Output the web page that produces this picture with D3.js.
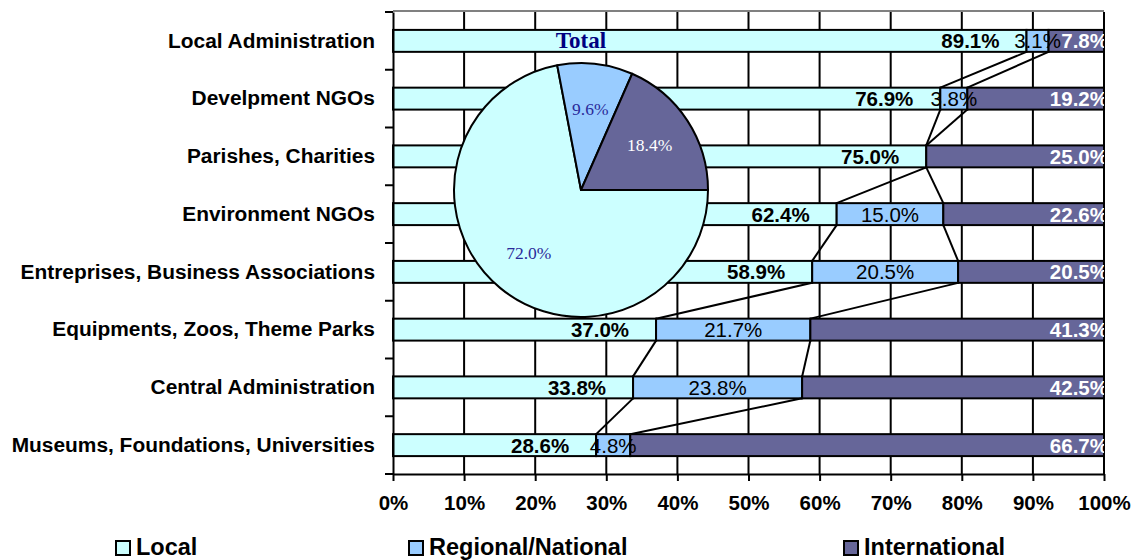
<!DOCTYPE html>
<html>
<head>
<meta charset="utf-8">
<script src="https://cdn.jsdelivr.net/npm/d3@7"></script>
<style>
  html, body { margin: 0; padding: 0; background: #ffffff; }
  svg { display: block; font-family: "Liberation Sans", Arial, sans-serif; }
</style>
</head>
<body>
<svg id="chart" width="1135" height="560"></svg>
<script>
// Share of partners by scope, per type of organisation
const categories = [
  "Local Administration",
  "Develpment NGOs",
  "Parishes, Charities",
  "Environment NGOs",
  "Entreprises, Business Associations",
  "Equipments, Zoos, Theme Parks",
  "Central Administration",
  "Museums, Foundations, Universities"
];
const localShare         = [89.1, 76.9, 75.0, 62.4, 58.9, 37.0, 33.8, 28.6];
const regionalShare      = [3.1, 3.8, 0.0, 15.0, 20.5, 21.7, 23.8, 4.8];
const internationalShare = [7.8, 19.2, 25.0, 22.6, 20.5, 41.3, 42.5, 66.7];

// Overall split shown in the inset pie
const totalShare = [72.0, 9.6, 18.4];

const seriesNames = ["Local", "Regional/National", "International"];
const seriesColors = ["#CCFFFF", "#99CCFF", "#666699"];
const xTicks = [0, 0.1, 0.2, 0.3, 0.4, 0.5, 0.6, 0.7, 0.8, 0.9, 1.0];

const SANS = "'Liberation Sans', Arial, sans-serif";
const SERIF = "'Liberation Serif', 'Times New Roman', serif";

const svg = d3.select("#chart");
const margin = { left: 393, top: 12, right: 31, bottom: 86 };
const W = 1135, H = 560;
const plotW = W - margin.left - margin.right;
const plotH = H - margin.top - margin.bottom;

const g = svg.append("g").attr("transform", `translate(${margin.left},${margin.top})`);

const rows = categories.map((c, i) => ({
  category: c,
  [seriesNames[0]]: localShare[i],
  [seriesNames[1]]: regionalShare[i],
  [seriesNames[2]]: internationalShare[i]
}));

const stacked = d3.stack().keys(seriesNames).offset(d3.stackOffsetExpand)(rows);

const x = d3.scaleLinear().domain([0, 1]).range([0, plotW]);
const y = d3.scaleBand().domain(categories).range([0, plotH])
  .paddingInner(0.62).paddingOuter(0.31);
const color = d3.scaleOrdinal().domain(seriesNames).range(seriesColors);

// clip for labels that run past the right edge
svg.append("defs").append("clipPath").attr("id", "plotClip")
  .append("rect").attr("x", 0).attr("y", 0).attr("width", plotW).attr("height", plotH);

// plot frame (top edge)
g.append("line").attr("x1", 0).attr("x2", plotW).attr("y1", -1).attr("y2", -1)
  .attr("stroke", "#808080").attr("stroke-width", 2);

// vertical gridlines
g.append("g").selectAll("line").data(xTicks.slice(1)).join("line")
  .attr("x1", d => x(d)).attr("x2", d => x(d))
  .attr("y1", 0).attr("y2", plotH)
  .attr("stroke", "#000").attr("stroke-width", 2);

// stacked bars
g.append("g").selectAll("g").data(stacked).join("g")
  .attr("fill", d => color(d.key))
  .selectAll("rect").data(d => d.filter(s => s[1] - s[0] > 0)).join("rect")
  .attr("x", d => x(d[0]))
  .attr("y", d => y(d.data.category))
  .attr("width", d => x(d[1]) - x(d[0]))
  .attr("height", y.bandwidth())
  .attr("stroke", "#000").attr("stroke-width", 2);

// series lines between neighbouring bars
const seriesLines = [];
for (let s = 0; s < stacked.length - 1; s++) {
  const layer = stacked[s];
  for (let i = 0; i < layer.length - 1; i++) {
    seriesLines.push({
      x1: x(layer[i][1]), y1: y(categories[i]) + y.bandwidth(),
      x2: x(layer[i + 1][1]), y2: y(categories[i + 1])
    });
  }
}
g.append("g").selectAll("line").data(seriesLines).join("line")
  .attr("x1", d => d.x1).attr("y1", d => d.y1)
  .attr("x2", d => d.x2).attr("y2", d => d.y2)
  .attr("stroke", "#000").attr("stroke-width", 2);

const fmt = v => v.toFixed(1) + "%";
const labelSize = 20.5;

// local labels: bold, inside the segment near its end
g.append("g").selectAll("text").data(stacked[0]).join("text")
  .attr("x", d => x(d[1]) - 27)
  .attr("y", d => y(d.data.category) + y.bandwidth() / 2)
  .attr("dy", "0.36em")
  .attr("text-anchor", "end")
  .style("font-family", SANS)
  .attr("font-size", labelSize).attr("font-weight", "bold")
  .attr("fill", "#000")
  .text((d, i) => fmt(localShare[i]));

// regional labels: regular weight, centred
g.append("g").selectAll("text").data(stacked[1].filter((d, i) => regionalShare[i] > 0)).join("text")
  .attr("x", d => x((d[0] + d[1]) / 2))
  .attr("y", d => y(d.data.category) + y.bandwidth() / 2)
  .attr("dy", "0.36em")
  .attr("text-anchor", "middle")
  .style("font-family", SANS)
  .attr("font-size", labelSize)
  .attr("fill", "#000")
  .text(d => fmt(d.data[seriesNames[1]]));

// international labels: white, against the right edge
g.append("g").attr("clip-path", "url(#plotClip)")
  .selectAll("text").data(stacked[2]).join("text")
  .attr("x", d => x(d[1]) + 4)
  .attr("y", d => y(d.data.category) + y.bandwidth() / 2)
  .attr("dy", "0.36em")
  .attr("text-anchor", "end")
  .style("font-family", SANS)
  .attr("font-size", labelSize).attr("font-weight", "bold")
  .attr("fill", "#ffffff")
  .text(d => fmt(d.data[seriesNames[2]]));

// x axis
const xAxis = g.append("g").attr("transform", `translate(0,${plotH})`)
  .call(d3.axisBottom(x).tickValues(xTicks).tickFormat(d3.format(".0%"))
    .tickSize(7).tickSizeOuter(0).tickPadding(14));
xAxis.select(".domain").attr("stroke", "#000").attr("stroke-width", 2);
xAxis.selectAll(".tick line").attr("stroke", "#000").attr("stroke-width", 2);
xAxis.selectAll(".tick text")
  .style("font-family", SANS)
  .attr("font-size", labelSize).attr("font-weight", "bold").attr("fill", "#000");

// y axis with ticks between categories
const yAxis = g.append("g")
  .call(d3.axisLeft(y).tickSize(0).tickPadding(18));
yAxis.select(".domain").attr("stroke", "#000").attr("stroke-width", 2);
yAxis.selectAll(".tick text")
  .style("font-family", SANS)
  .attr("font-size", 20.9).attr("font-weight", "bold").attr("fill", "#000");

const gapHalf = (y.step() - y.bandwidth()) / 2;
const boundaries = categories.map(c => y(c) - gapHalf).concat([plotH]);
g.append("g").selectAll("line").data(boundaries).join("line")
  .attr("x1", -8).attr("x2", 0)
  .attr("y1", d => d).attr("y2", d => d)
  .attr("stroke", "#000").attr("stroke-width", 2);

// inset pie of the total
const pieCx = 581, pieCy = 190, pieR = 127;
const pieG = svg.append("g").attr("transform", `translate(${pieCx},${pieCy})`);
const pie = d3.pie().sort(null).startAngle(Math.PI / 2).endAngle(Math.PI / 2 + 2 * Math.PI);
const arcs = pie(totalShare);
const arc = d3.arc().innerRadius(0).outerRadius(pieR);
pieG.selectAll("path").data(arcs).join("path")
  .attr("d", arc)
  .attr("fill", (d, i) => seriesColors[i])
  .attr("stroke", "#000").attr("stroke-width", 2).attr("stroke-linejoin", "round");

const labelArc = d3.arc().innerRadius(82).outerRadius(82);
const pieTextColors = ["#2a2a9a", "#2a2a9a", "#ffffff"];
pieG.selectAll("text").data(arcs).join("text")
  .attr("transform", d => `translate(${labelArc.centroid(d)})`)
  .attr("text-anchor", "middle").attr("dy", "0.35em")
  .style("font-family", SERIF)
  .attr("font-size", 17.5)
  .attr("fill", (d, i) => pieTextColors[i])
  .text(d => d.data.toFixed(1) + "%");

svg.append("text")
  .attr("x", pieCx).attr("y", 48)
  .attr("text-anchor", "middle")
  .style("font-family", SERIF)
  .attr("font-size", 23).attr("font-weight", "bold")
  .attr("fill", "#000080")
  .text("Total");

// legend
const legendX = [115, 408, 843];
const legend = svg.append("g").selectAll("g").data(seriesNames).join("g")
  .attr("transform", (d, i) => `translate(${legendX[i]},540)`);
legend.append("rect")
  .attr("x", 1).attr("y", 1).attr("width", 14).attr("height", 14)
  .attr("fill", d => color(d)).attr("stroke", "#000").attr("stroke-width", 2);
legend.append("text")
  .attr("x", 21).attr("y", 15)
  .style("font-family", SANS)
  .attr("font-size", 23.5).attr("font-weight", "bold").attr("fill", "#000")
  .text(d => d);
</script>
</body>
</html>
